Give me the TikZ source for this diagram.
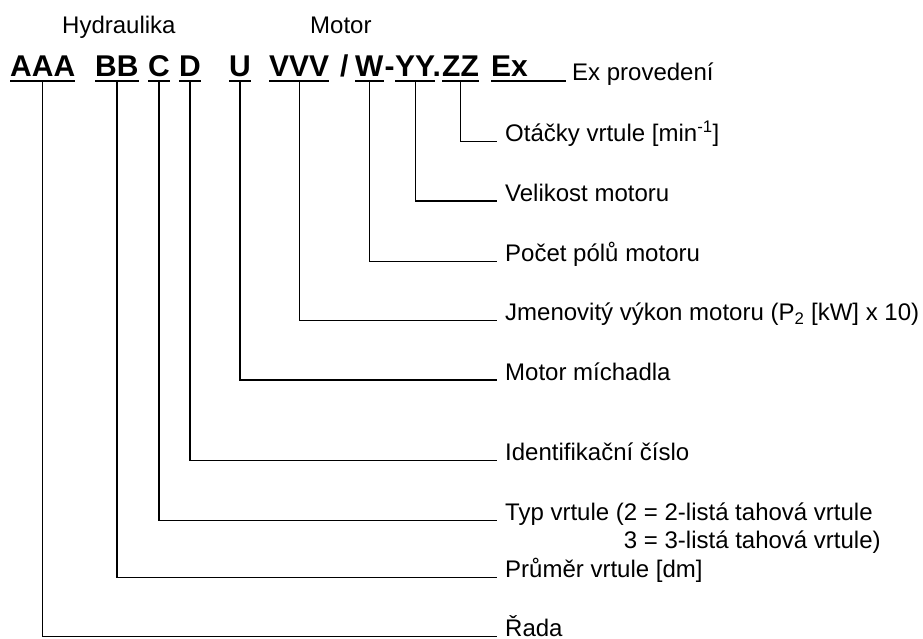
\documentclass[tikz,border=0pt]{standalone}
\usepackage{fontspec}
\setmainfont{Liberation Sans}
\begin{document}
\begin{tikzpicture}[x=1pt,y=-1pt,
  code/.style={inner sep=0pt,anchor=base west,font=\fontsize{30}{36}\selectfont\bfseries},
  lbl/.style={inner sep=0pt,anchor=base west,font=\fontsize{24}{27.6}\selectfont},
  uline/.style={line width=2.8pt},
  conn/.style={line width=1.4pt,line cap=rect}]
\useasboundingbox (0,0) rectangle (923,639);

% group headings
\node[lbl] (hyd) at (62,34) {Hydraulika};
\node[lbl] (mot) at (310,34) {Motor};

% type code
\node[code] (g1) at (10,77) {AAA};
\node[code] (g2) at (95,77) {BB};
\node[code] (g3) at (148,77) {C};
\node[code] (g4) at (179,77) {D};
\node[code] (g5) at (229,77) {U};
\node[code] (g6) at (269,77) {VVV};
\node[code] (sl) at (340,77) {/};
\node[code] (g7) at (355,77) {W};
\node[code] (hy) at (384.5,77) {-};
\node[code] (g8) at (395,77) {YY};
\node[code] (dt) at (432.5,77) {.};
\node[code] (g9) at (442,77) {ZZ};
\node[code] (g10) at (491,77) {Ex};

% underlines of the code groups
\foreach \g in {g1,g2,g3,g4,g5,g6,g7,g8,g9,g10}
  \draw[uline] ([yshift=-4pt]\g.base west) -- ([yshift=-4pt]\g.base east);

% explanations
\node[lbl] (lEx) at (572,81) {Ex provedení};
\node[lbl] (l9) at (505,141.7) {Otáčky vrtule [min\textsuperscript{-1}]};
\node[lbl] (l8) at (505,201) {Velikost motoru};
\node[lbl] (l7) at (505,261.7) {Počet pólů motoru};
\node[lbl] (l6) at (505,320.5) {Jmenovitý výkon motoru (P\textsubscript{2} [kW] x 10)};
\node[lbl] (l5) at (505,380) {Motor míchadla};
\node[lbl] (l4) at (505,460.7) {Identifikační číslo};
\node[lbl] (l3) at (505,520.7) {Typ vrtule (2 = 2-listá tahová vrtule};
\node[lbl] (l3b) at (505,548.3) {\hphantom{Typ vrtule (}3 = 3-listá tahová vrtule)};
\node[lbl] (l2) at (505,577.2) {Průměr vrtule [dm]};
\node[lbl] (l1) at (505,636.5) {Řada};

% leader lines
\draw[conn] ([yshift=-4pt]g10.base east) -- ([xshift=-7pt]lEx.base west);
\draw[conn] ([yshift=-4pt]g9.base) |- ([xshift=-9pt]l9.base west);
\draw[conn] ([yshift=-4pt]g8.base) |- ([xshift=-9pt]l8.base west);
\draw[conn] ([yshift=-4pt]g7.base) |- ([xshift=-9pt]l7.base west);
\draw[conn] ([yshift=-4pt]g6.base) |- ([xshift=-9pt]l6.base west);
\draw[conn] ([yshift=-4pt]g5.base) |- ([xshift=-9pt]l5.base west);
\draw[conn] ([yshift=-4pt]g4.base) |- ([xshift=-9pt]l4.base west);
\draw[conn] ([yshift=-4pt]g3.base) |- ([xshift=-9pt]l3.base west);
\draw[conn] ([yshift=-4pt]g2.base) |- ([xshift=-9pt]l2.base west);
\draw[conn] ([yshift=-4pt]g1.base) |- ([xshift=-9pt]l1.base west);
\end{tikzpicture}
\end{document}
